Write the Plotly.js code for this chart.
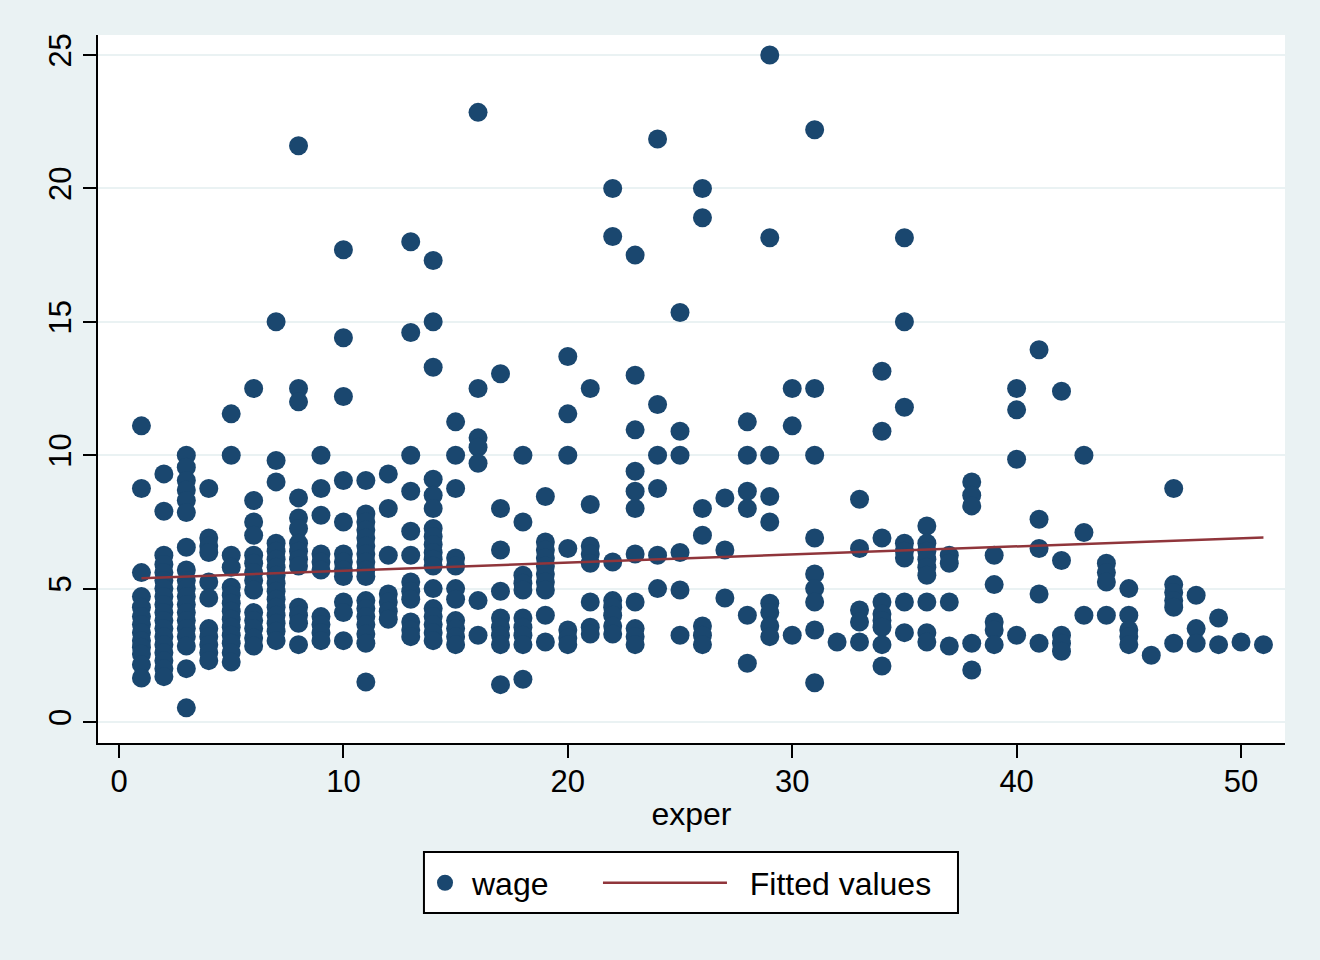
<!DOCTYPE html>
<html>
<head>
<meta charset="utf-8">
<script src="https://cdn.plot.ly/plotly-3.0.1.min.js"></script>
<style>
  html, body { margin: 0; padding: 0; background: #eaf2f3; }
  #chart { width: 1320px; height: 960px; }
</style>
</head>
<body>
<div id="chart"></div>
<script>
const experLevels = [
    1, 2, 3, 4, 5, 6, 7, 8, 9, 10,
    11, 12, 13, 14, 15, 16, 17, 18, 19, 20,
    21, 22, 23, 24, 25, 26, 27, 28, 29, 30,
    31, 32, 33, 34, 35, 36, 37, 38, 39, 40,
    41, 42, 43, 44, 45, 46, 47, 48, 49, 50, 51
];

const wageByExper = [
    [11.1, 8.75, 5.6, 4.7, 4.3, 3.95, 3.65, 3.35, 3.05, 2.8, 2.55, 2.15, 1.65],
    [9.3, 7.9, 6.25, 5.9, 5.6, 5.3, 5.0, 4.7, 4.4, 4.1, 3.8, 3.5, 3.2, 2.9, 2.6, 2.3, 2.0, 1.7],
    [10.0, 9.55, 9.05, 8.7, 8.3, 7.85, 6.55, 5.7, 5.3, 5.0, 4.7, 4.4, 4.1, 3.8, 3.5, 3.2, 2.85, 2.0, 0.53],
    [8.75, 6.9, 6.6, 6.35, 5.25, 4.65, 3.5, 3.2, 2.9, 2.6, 2.3],
    [11.55, 10.0, 6.25, 5.8, 5.05, 4.75, 4.45, 4.15, 3.85, 3.55, 3.25, 2.95, 2.6, 2.25],
    [12.5, 8.3, 7.5, 7.0, 6.25, 5.95, 5.6, 5.3, 4.95, 4.1, 3.8, 3.5, 3.15, 2.85],
    [15.0, 9.8, 9.0, 6.7, 6.4, 6.1, 5.8, 5.5, 5.2, 4.9, 4.6, 4.3, 4.0, 3.7, 3.4, 3.05],
    [21.6, 12.5, 12.0, 8.4, 7.65, 7.25, 6.7, 6.4, 6.1, 5.85, 4.3, 4.0, 3.7, 2.9],
    [10.0, 8.75, 7.75, 6.3, 6.0, 5.7, 3.95, 3.65, 3.35, 3.05],
    [17.7, 14.4, 12.2, 9.05, 7.5, 6.3, 6.0, 5.7, 5.45, 4.5, 4.1, 3.05],
    [9.05, 7.8, 7.5, 7.2, 6.9, 6.6, 6.3, 6.0, 5.7, 5.45, 4.55, 4.25, 3.95, 3.65, 3.3, 2.95, 1.5],
    [9.3, 8.0, 6.25, 4.8, 4.5, 4.15, 3.85],
    [18.0, 14.6, 10.0, 8.65, 7.15, 6.25, 5.25, 4.9, 4.6, 3.75, 3.45, 3.2],
    [17.3, 15.0, 13.3, 9.1, 8.5, 8.0, 7.25, 6.95, 6.65, 6.35, 6.1, 5.85, 5.0, 4.25, 3.95, 3.65, 3.35, 3.05],
    [11.25, 10.0, 8.75, 6.15, 5.85, 5.0, 4.6, 3.8, 3.5, 3.2, 2.9],
    [22.85, 12.5, 10.65, 10.3, 9.7, 4.55, 3.25],
    [13.05, 8.0, 6.45, 4.9, 3.9, 3.55, 3.25, 2.9, 1.4],
    [10.0, 7.5, 5.5, 5.2, 4.95, 3.9, 3.55, 3.25, 2.9, 1.6],
    [8.45, 6.75, 6.45, 6.15, 5.85, 5.55, 5.25, 4.95, 4.0, 3.0],
    [13.7, 11.55, 10.0, 6.5, 3.45, 3.15, 2.9],
    [12.5, 8.15, 6.6, 6.3, 5.95, 4.5, 3.55, 3.3],
    [20.0, 18.2, 6.0, 4.55, 4.3, 4.0, 3.6, 3.3],
    [17.5, 13.0, 10.95, 9.4, 8.65, 8.0, 6.3, 4.5, 3.5, 3.2, 2.9],
    [21.85, 11.9, 10.0, 8.75, 6.25, 5.0],
    [15.35, 10.9, 10.0, 6.35, 4.95, 3.25],
    [20.0, 18.9, 8.0, 7.0, 3.6, 3.25, 2.9],
    [8.4, 6.45, 4.65],
    [11.25, 10.0, 8.65, 8.0, 4.0, 2.2],
    [25.0, 18.15, 10.0, 8.45, 7.5, 4.45, 4.1, 3.6, 3.2],
    [12.5, 11.1, 3.25],
    [22.2, 12.5, 10.0, 6.9, 5.55, 5.0, 4.5, 3.45, 1.47],
    [3.0],
    [8.35, 6.5, 4.2, 3.75, 3.0],
    [13.15, 10.9, 6.9, 4.5, 4.05, 3.8, 3.55, 2.9, 2.1],
    [18.15, 15.0, 11.8, 6.7, 6.4, 6.15, 4.5, 3.35],
    [7.35, 6.7, 6.4, 6.1, 5.8, 5.5, 4.5, 3.35, 3.0],
    [6.25, 5.95, 4.5, 2.85],
    [9.0, 8.5, 8.1, 2.95, 1.95],
    [6.25, 5.15, 3.75, 3.45, 2.9],
    [12.5, 11.7, 9.85, 3.25],
    [13.95, 7.6, 6.5, 4.8, 2.95],
    [12.4, 6.05, 3.25, 2.95, 2.65],
    [10.0, 7.1, 4.0],
    [5.95, 5.6, 5.25, 4.0],
    [5.0, 4.0, 3.45, 3.2, 2.9],
    [2.5],
    [8.75, 5.15, 4.85, 4.55, 4.3, 2.95],
    [4.75, 3.5, 2.95],
    [3.9, 2.9],
    [3.0],
    [2.9]
];

// fitted values line (ends of the regression line)
const fitExper = [1, 51];
const fitWage = [5.39, 6.92];

const xTicks = [0, 10, 20, 30, 40, 50];
const yTicks = [0, 5, 10, 15, 20, 25];

const scatterX = [];
const scatterY = [];
experLevels.forEach((e, i) => {
    wageByExper[i].forEach(w => {
        scatterX.push(e);
        scatterY.push(w);
    });
});

const font = 'Liberation Sans, Helvetica, Arial, sans-serif';

const plotData = [
    {
        x: scatterX,
        y: scatterY,
        mode: 'markers',
        type: 'scatter',
        name: 'wage',
        legend: 'legend',
        marker: { color: '#1a476f', size: 19 },
        hoverinfo: 'x+y'
    },
    {
        x: fitExper,
        y: fitWage,
        mode: 'lines',
        type: 'scatter',
        name: '\u00a0\u00a0Fitted values',
        legend: 'legend2',
        line: { color: '#90353b', width: 2.5 }
    }
];

const axisCommon = {
    showline: true,
    linecolor: '#000000',
    linewidth: 2,
    ticks: 'outside',
    ticklen: 13,
    tickwidth: 2,
    tickcolor: '#000000',
    zeroline: false,
    tickfont: { size: 31, color: '#000000', family: font }
};

const layout = {
    width: 1320,
    height: 960,
    paper_bgcolor: '#eaf2f3',
    plot_bgcolor: '#ffffff',
    font: { family: font, color: '#000000' },
    margin: { t: 35, r: 35, b: 217, l: 98 },
    xaxis: Object.assign({}, axisCommon, {
        range: [-0.936, 51.96],
        tickvals: xTicks,
        showgrid: false,
        ticklabelstandoff: -3,
        title: { text: 'exper', font: { size: 32, family: font, color: '#000000' }, standoff: 4 }
    }),
    yaxis: Object.assign({}, axisCommon, {
        range: [-0.787, 25.75],
        tickvals: yTicks,
        tickangle: -90,
        showgrid: true,
        gridcolor: '#eaf2f3',
        gridwidth: 2
    }),
    shapes: [{
        type: 'rect',
        xref: 'paper', yref: 'paper',
        x0: 0.2746, x1: 0.7245, y0: -0.2401, y1: -0.1540,
        line: { color: '#000000', width: 2 },
        fillcolor: '#ffffff',
        layer: 'below'
    }],
    legend: {
        orientation: 'h',
        x: 0.2696, xanchor: 'left',
        y: -0.1977, yanchor: 'middle',
        bgcolor: 'rgba(0,0,0,0)',
        borderwidth: 0,
        itemwidth: 44,
        font: { size: 32, family: font, color: '#000000' }
    },
    legend2: {
        orientation: 'h',
        x: 0.4212, xanchor: 'left',
        y: -0.1977, yanchor: 'middle',
        bgcolor: 'rgba(0,0,0,0)',
        borderwidth: 0,
        itemwidth: 124,
        font: { size: 32, family: font, color: '#000000' }
    },
    showlegend: true,
    hovermode: 'closest'
};

Plotly.newPlot('chart', plotData, layout, { displayModeBar: false, responsive: false });
</script>
</body>
</html>
